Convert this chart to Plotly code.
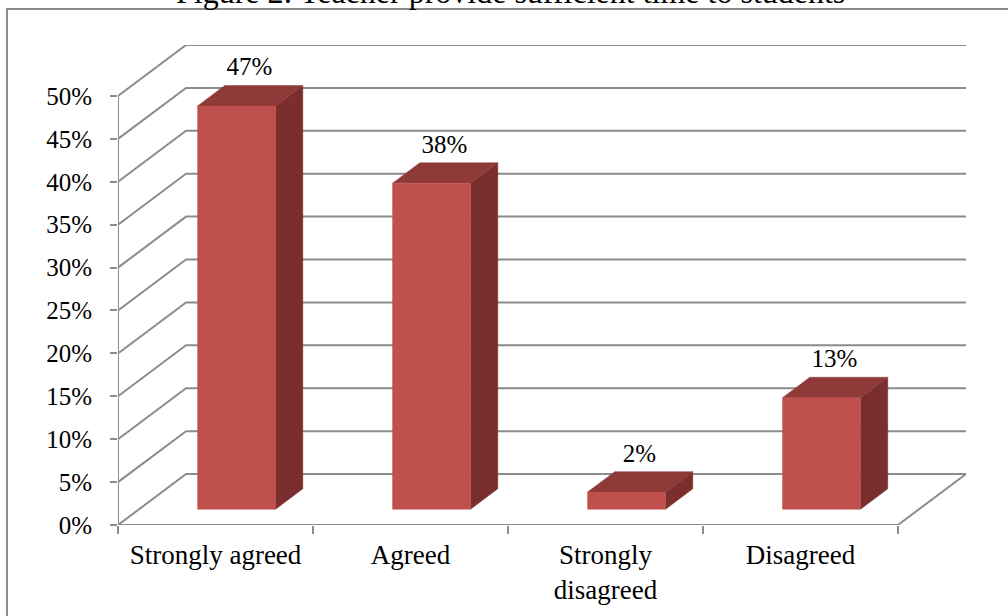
import plotly.graph_objects as go

# ---- data ----
categories = ["Strongly agreed", "Agreed", "Strongly<br>disagreed", "Disagreed"]
values = [47, 38, 2, 13]
value_labels = ["47%", "38%", "2%", "13%"]
y_ticks = [0, 5, 10, 15, 20, 25, 30, 35, 40, 45, 50]
y_tick_labels = ["0%", "5%", "10%", "15%", "20%", "25%", "30%", "35%", "40%", "45%", "50%"]
title_text = "Figure 2: Teacher provide sufficient time to students"

# ---- 3D projection parameters (data units) ----
D = 0.349       # depth offset along x (category units)
DY = 5.94       # depth offset along y (percent units)
BAR_W = 0.40    # front face width
F0 = 0.31       # depth fraction of bar front
F1 = 0.40       # bar depth fraction

FRONT = "#C0504D"
TOP = "#8E3A39"
SIDE = "#7A2F2E"
GRID = "#8C8C8C"
FONT = "Liberation Serif"

n = len(categories)
x_left, x_right = -0.5, n - 0.5
ymax = max(y_ticks)

fig = go.Figure()

# back wall gridlines with diagonal side wall lines
for v in y_ticks:
    fig.add_trace(go.Scatter(
        x=[x_left, x_left + D, x_right + D],
        y=[v, v + DY, v + DY],
        mode="lines", line=dict(color=GRID, width=2),
        hoverinfo="skip", showlegend=False))

# floor front edge + right edge
fig.add_trace(go.Scatter(
    x=[x_left, x_right, x_right + D],
    y=[0, 0, DY],
    mode="lines", line=dict(color=GRID, width=2),
    hoverinfo="skip", showlegend=False))

# front vertical axis line
fig.add_trace(go.Scatter(
    x=[x_left, x_left], y=[0, ymax],
    mode="lines", line=dict(color=GRID, width=2),
    hoverinfo="skip", showlegend=False))

# bars
b = F0 * DY
dd = F1 * D
dh = F1 * DY
for i, v in enumerate(values):
    xl = i - BAR_W / 2 + F0 * D
    xr = i + BAR_W / 2 + F0 * D
    # side face
    fig.add_trace(go.Scatter(
        x=[xr, xr, xr + dd, xr + dd, xr],
        y=[b, v + b, v + b + dh, b + dh, b],
        mode="lines", fill="toself", fillcolor=SIDE,
        line=dict(color=SIDE, width=0.5),
        hoverinfo="skip", showlegend=False))
    # top face
    fig.add_trace(go.Scatter(
        x=[xl, xr, xr + dd, xl + dd, xl],
        y=[v + b, v + b, v + b + dh, v + b + dh, v + b],
        mode="lines", fill="toself", fillcolor=TOP,
        line=dict(color=TOP, width=0.5),
        hoverinfo="skip", showlegend=False))
    # front face
    fig.add_trace(go.Scatter(
        x=[xl, xr, xr, xl, xl],
        y=[b, b, v + b, v + b, b],
        mode="lines", fill="toself", fillcolor=FRONT,
        line=dict(color=FRONT, width=0.5),
        hoverinfo="skip", showlegend=False))

# value labels
fig.add_trace(go.Scatter(
    x=[i + 0.5 * D for i in range(n)],
    y=[v + 1.03 * DY for v in values],
    mode="text", text=value_labels, textposition="middle center",
    textfont=dict(family=FONT, size=25, color="black"),
    hoverinfo="skip", showlegend=False))

L, R, T, B = 118, 42, 45, 91
W, H = 1008, 616
pw, ph = W - L - R, H - T - B

def px_x(p):
    return (p - L) / pw

def px_y(p):
    return (H - B - p) / ph

fig.update_layout(
    width=W, height=H,
    margin=dict(l=L, r=R, t=T, b=B, autoexpand=False),
    plot_bgcolor="white", paper_bgcolor="white",
    font=dict(family=FONT, size=25, color="black"),
    xaxis=dict(
        range=[x_left, x_right + D], automargin=False,
        tickvals=list(range(n)), ticktext=categories,
        ticks="", showgrid=False, zeroline=False, showline=False,
        ticklabelstandoff=11,
        tickfont=dict(family=FONT, size=27, color="black"),
        minor=dict(tickvals=[k - 0.5 for k in range(n + 1)], ticks="outside",
                   ticklen=8, tickwidth=2, tickcolor=GRID, showgrid=False),
    ),
    yaxis=dict(
        range=[0, ymax + DY], automargin=False,
        tickvals=y_ticks, ticktext=y_tick_labels,
        ticks="outside", ticklen=7, tickwidth=2, tickcolor=GRID,
        showgrid=False, zeroline=False, showline=False,
        ticklabelstandoff=13,
        tickfont=dict(family=FONT, size=25, color="black"),
    ),
    shapes=[dict(type="rect", xref="paper", yref="paper",
                 x0=px_x(7), x1=px_x(1030), y0=px_y(680), y1=px_y(9),
                 line=dict(color="#8C8C8C", width=2), layer="below")],
    annotations=[dict(text=title_text, xref="paper", yref="paper",
                      x=px_x(510), y=px_y(12), xanchor="center", yanchor="bottom",
                      showarrow=False,
                      font=dict(family=FONT, size=32, color="black"))],
)

fig.write_html("out.html", config={"displayModeBar": False},
               post_script="document.body.style.margin='0';")
